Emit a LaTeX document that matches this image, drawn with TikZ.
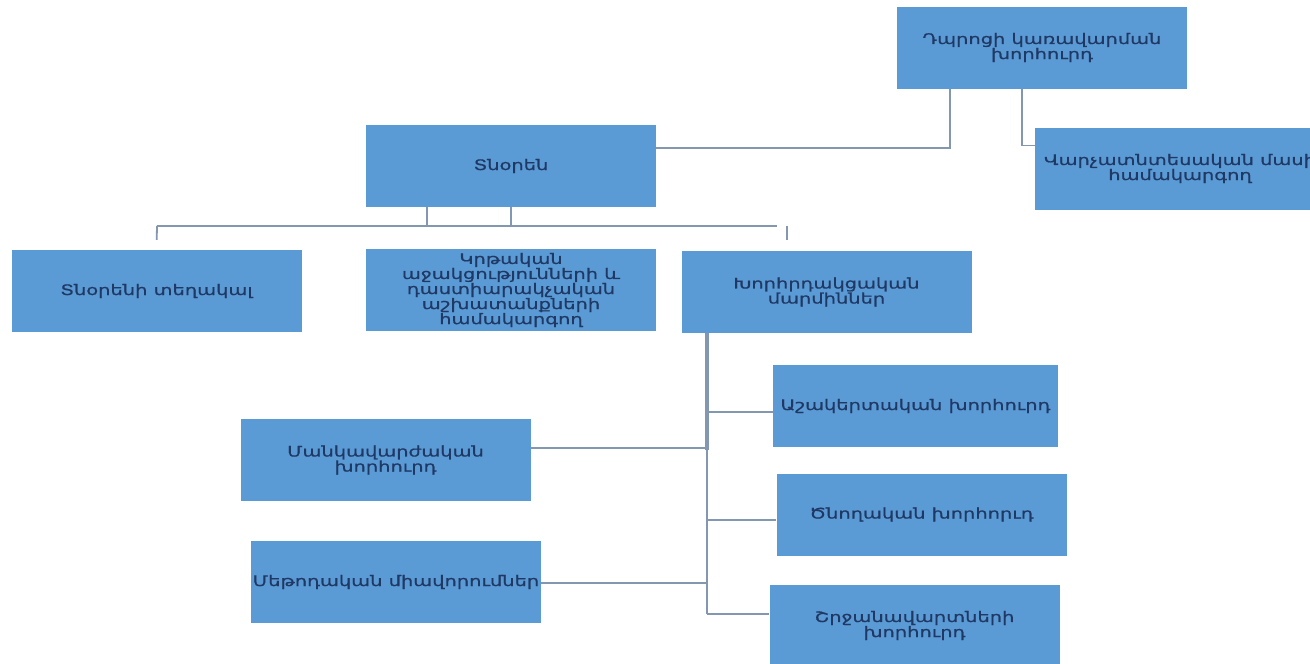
\documentclass[tikz,border=0pt]{standalone}
\usepackage{fontspec}
\newfontfamily\arm[Script=Armenian,FakeStretch=1.34,FakeBold=0.8]{DejaVu Sans}
\definecolor{boxfill}{HTML}{5B9BD5}
\definecolor{boxtext}{HTML}{1F3864}
\definecolor{linecol}{HTML}{8497B0}
\begin{document}
\begin{tikzpicture}[x=1pt,y=-1pt,
  box/.style={draw=none,fill=boxfill,minimum width=290pt,minimum height=82pt,
    inner sep=0pt,align=center,text=boxtext,font=\arm\fontsize{14.5}{13.8}\selectfont},
  conn/.style={draw=linecol,line width=1.8pt}]
\useasboundingbox (0,0) rectangle (1310,664);
\clip (0,0) rectangle (1310,664);
\node[box] (A) at (1042,47.5) {Դպրոցի կառավարման\\խորհուրդ};
\node[box] (B) at (1180,168.5) {Վարչատնտեսական մասի\\համակարգող};
\node[box] (C) at (511,166) {Տնօրեն};
\node[box] (D) at (156.5,291) {Տնօրենի տեղակալ};
\node[box] (E) at (511,290) {Կրթական\\աջակցությունների և\\դաստիարակչական\\աշխատանքների\\համակարգող};
\node[box] (F) at (826.5,292) {Խորհրդակցական\\մարմիններ};
\node[box,minimum width=285pt] (G) at (915.5,406) {Աշակերտական խորհուրդ};
\node[box] (H) at (385.5,460) {Մանկավարժական\\խորհուրդ};
\node[box] (I) at (921.5,514.5) {Ծնողական խորհորւդ};
\node[box] (J) at (396,582) {Մեթոդական միավորումներ};
\node[box] (K) at (914.5,625.5) {Շրջանավարտների\\խորհուրդ};
% top connectors
\draw[conn] ([xshift=-92pt]A.south) |- ([yshift=18pt]C.east);
\draw[conn] ([xshift=-20pt]A.south) |- ([yshift=23pt]B.west);
% Director to the three
\coordinate (cl) at (157,226);
\coordinate (cr) at (787,226);
\draw[conn] ([xshift=-84pt]C.south) -- ([xshift=-84pt]C.south |- cl);
\draw[conn] (C.south) -- (C.south |- cl);
\draw[conn, shorten >=10pt] (cl) -- (cr);
\draw[conn, shorten >=10pt] (cl) -- (D.north);
\draw[conn, shorten >=11pt] (cr) -- (cr |- F.north);
% advisory bodies
\coordinate (v0) at ([xshift=-119.5pt]F.south);
\coordinate (v1) at (v0 |- 0,614);
\draw[conn] (v0) -- (v1);
\draw[conn,line width=3.5pt] (v0) -- (v0 |- 0,450);
\draw[conn] (v0 |- 0,412) -- (v0 |- 0,412 -| G.west);
\draw[conn] (v0 |- 0,448) -- (H.east |- 0,448);
\draw[conn] (v0 |- 0,520) -- (I.west |- 0,520);
\draw[conn] (v0 |- 0,583) -- (J.east |- 0,583);
\draw[conn] (v1) -- (K.west |- v1);
\end{tikzpicture}
\end{document}
